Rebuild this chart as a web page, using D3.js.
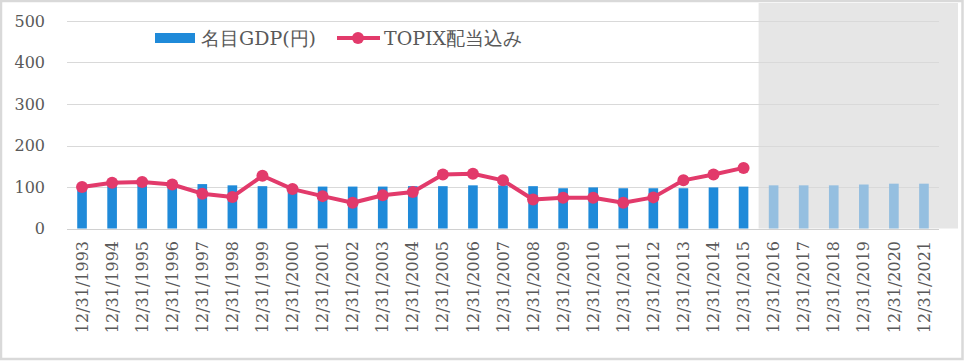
<!DOCTYPE html>
<html>
<head>
<meta charset="utf-8">
<script src="https://cdn.jsdelivr.net/npm/d3@7"></script>
<style>
  html, body { margin: 0; padding: 0; background: #fff; }
  svg { display: block; }
  svg text { font-family: "DejaVu Serif", "Liberation Serif", serif; }
</style>
</head>
<body>
<svg id="chart" width="964" height="361"></svg>
<script>
// ---- data ----
const categories = ["12/31/1993","12/31/1994","12/31/1995","12/31/1996","12/31/1997","12/31/1998","12/31/1999","12/31/2000","12/31/2001","12/31/2002","12/31/2003","12/31/2004","12/31/2005","12/31/2006","12/31/2007","12/31/2008","12/31/2009","12/31/2010","12/31/2011","12/31/2012","12/31/2013","12/31/2014","12/31/2015","12/31/2016","12/31/2017","12/31/2018","12/31/2019","12/31/2020","12/31/2021"];
const gdpValues = [100,102,104,106,107,104,102,103,101,101,101,102,102,104,104,102,97,99,97,97,97,99,101,104,104,104,106,108,108];
const topixValues = [100,110,112,106,84,76,127,95,78,62,80,88,130,132,116,70,74,74,62,75,116,130,146];
const forecastStart = 23; // index of first forecast year (2016)
const yTicks = [0,100,200,300,400,500];
const legendLabels = ["名目GDP(円)", "TOPIX配当込み"];

// ---- layout ----
const W = 964, H = 361;
const plot = {left: 67, right: 939, top: 21, bottom: 228.5};
const svg = d3.select("#chart");

const x = d3.scaleBand().domain(categories).range([plot.left, plot.right]).paddingInner(0.68).paddingOuter(0.34);
const xFull = d3.scaleBand().domain(categories).range([plot.left, plot.right]).padding(0);
const y = d3.scaleLinear().domain([0, 500]).range([plot.bottom, plot.top]);

// outer border
svg.append("rect").attr("x", 1).attr("y", 1).attr("width", W - 2.5).attr("height", H - 3)
  .attr("fill", "#fff").attr("stroke", "#d9d9d9").attr("stroke-width", 2.5);

// forecast shading
svg.append("rect")
  .attr("x", xFull(categories[forecastStart]))
  .attr("y", 3)
  .attr("width", W - 6 - xFull(categories[forecastStart]))
  .attr("height", plot.bottom - 3)
  .attr("fill", "#e6e6e6");

// gridlines
svg.append("g").selectAll("line").data(yTicks.filter(d => d > 0)).join("line")
  .attr("x1", plot.left).attr("x2", plot.right)
  .attr("y1", d => Math.round(y(d)) + 0.5).attr("y2", d => Math.round(y(d)) + 0.5)
  .attr("stroke", "#d9d9d9").attr("stroke-width", 1);

// y axis labels
const yAxis = d3.axisLeft(y).tickValues(yTicks).tickSize(0).tickPadding(0);
const yg = svg.append("g").attr("transform", `translate(45,0)`).call(yAxis);
yg.attr("font-family", null);
yg.select(".domain").remove();
yg.selectAll("text").attr("font-size", 16).attr("fill", "#595959");

// bars
svg.append("g").selectAll("rect").data(gdpValues).join("rect")
  .attr("x", (d, i) => x(categories[i]))
  .attr("width", x.bandwidth())
  .attr("y", d => y(d))
  .attr("height", d => y(0) - y(d))
  .attr("fill", (d, i) => i >= forecastStart ? "#95bfe0" : "#1f8ad9");

// baseline axis
svg.append("line").attr("x1", plot.left).attr("x2", plot.right)
  .attr("y1", Math.round(y(0)) + 0.5).attr("y2", Math.round(y(0)) + 0.5)
  .attr("stroke", "#d0d0d0").attr("stroke-width", 1);

// x axis labels
const xAxis = d3.axisBottom(xFull).tickSize(0).tickPadding(0);
const xg = svg.append("g").attr("transform", `translate(0,241)`).call(xAxis);
xg.attr("font-family", null);
xg.select(".domain").remove();
xg.selectAll("text")
  .attr("font-size", 16).attr("fill", "#595959")
  .attr("text-anchor", "end").attr("transform", "rotate(-90)")
  .attr("x", 0).attr("y", 0).attr("dy", "0.35em");

// line
const lineColor = "#e23a6b";
const cx = i => xFull(categories[i]) + xFull.bandwidth() / 2;
const line = d3.line().x((d, i) => cx(i)).y(d => y(d));
svg.append("path").datum(topixValues).attr("d", line)
  .attr("fill", "none").attr("stroke", lineColor).attr("stroke-width", 4).attr("stroke-linejoin", "round");
svg.append("g").selectAll("circle").data(topixValues).join("circle")
  .attr("cx", (d, i) => cx(i)).attr("cy", d => y(d)).attr("r", 6).attr("fill", lineColor);

// legend
const lg = svg.append("g");
lg.append("rect").attr("x", 155).attr("y", 33).attr("width", 40).attr("height", 10).attr("fill", "#1f8ad9");
lg.append("text").attr("x", 201).attr("y", 45).text(legendLabels[0])
  .attr("font-size", 19).attr("fill", "#595959");
lg.append("line").attr("x1", 337).attr("x2", 380).attr("y1", 38).attr("y2", 38)
  .attr("stroke", lineColor).attr("stroke-width", 4);
lg.append("circle").attr("cx", 358).attr("cy", 38).attr("r", 6).attr("fill", lineColor);
lg.append("text").attr("x", 384).attr("y", 45).text(legendLabels[1])
  .attr("font-size", 19).attr("fill", "#595959");
</script>
</body>
</html>
